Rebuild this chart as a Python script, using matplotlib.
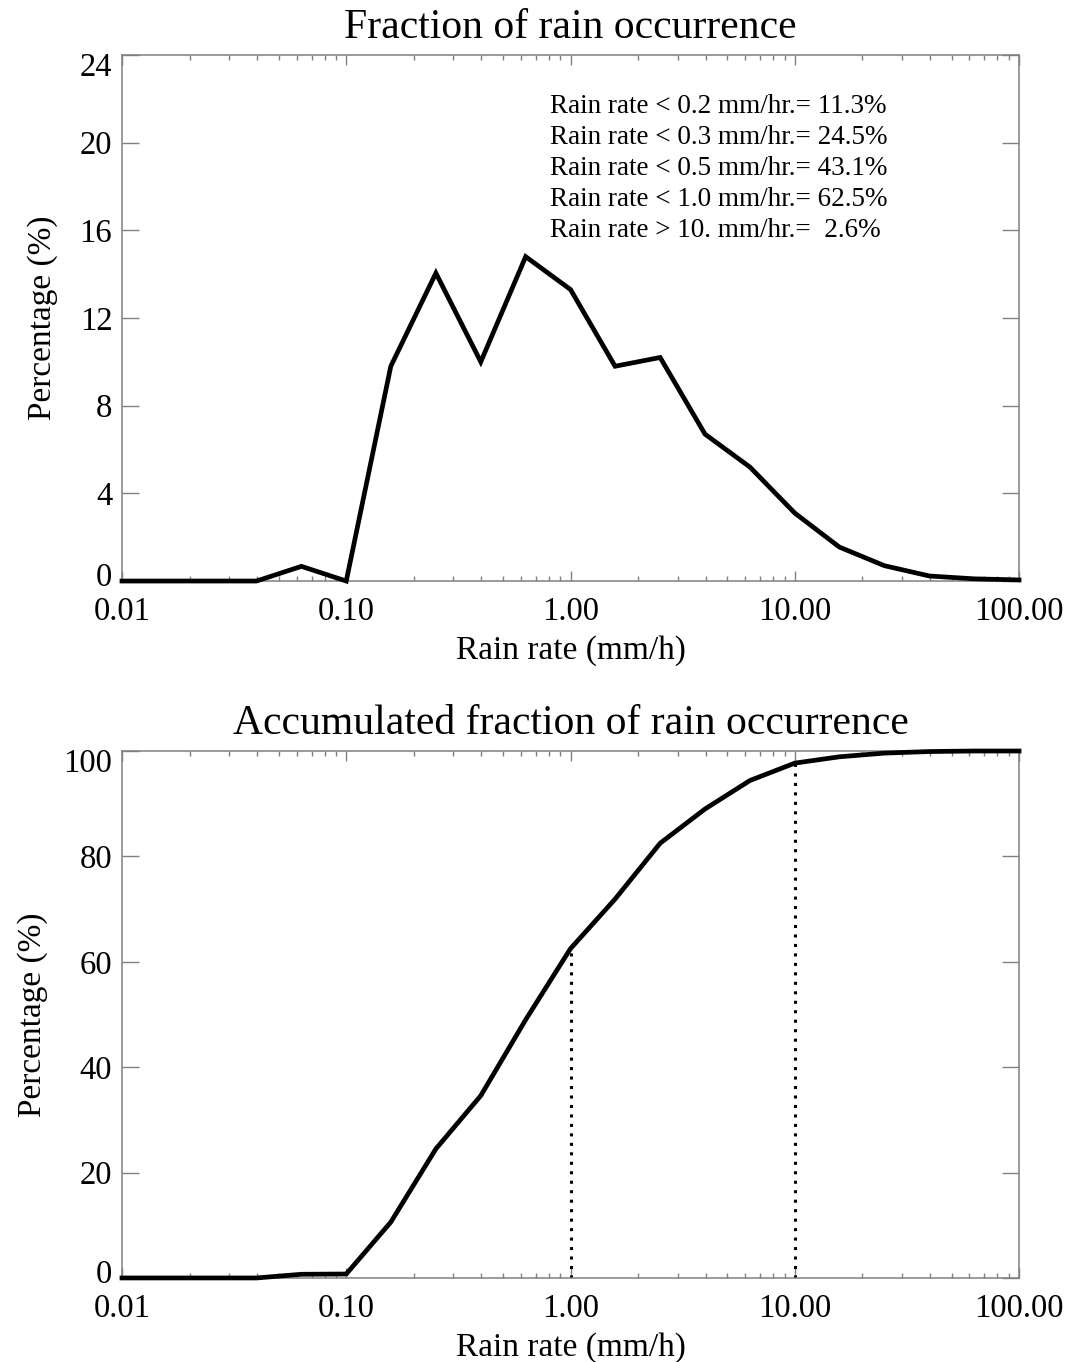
import matplotlib.pyplot as plt
import numpy as np
from matplotlib.ticker import FixedFormatter, FixedLocator, LogLocator, NullFormatter
from matplotlib.transforms import ScaledTranslation

plt.rcParams['font.family'] = ['Liberation Serif', 'DejaVu Serif']

# Data
# ----------------------------------------------------------------------------

# rain rate bins (mm/h)
rain_rate = [0.01, 0.0158, 0.0251, 0.0398, 0.0631, 0.1, 0.158, 0.251, 0.398,
             0.631, 1.0, 1.58, 2.51, 3.98, 6.31, 10.0, 15.8, 25.1, 39.8, 63.1,
             100.0]

# fraction of rain occurrence (%)
fraction = [0.0, 0.0, 0.0, 0.0, 0.67, 0.0, 9.8, 14.05, 10.0, 14.8, 13.3, 9.8,
            10.2, 6.7, 5.2, 3.1, 1.55, 0.7, 0.23, 0.1, 0.05]

# accumulated fraction of rain occurrence (%)
accumulated = [0.0, 0.0, 0.0, 0.0, 0.7, 0.75, 10.6, 24.5, 34.6, 49.0, 62.5,
               71.9, 82.5, 89.0, 94.4, 97.7, 98.9, 99.6, 99.9, 100.0, 100.0]

xtick_values = [0.01, 0.1, 1.0, 10.0, 100.0]
xtick_labels = ['0.01', '0.10', '1.00', '10.00', '100.00']
yticks_top = [0, 4, 8, 12, 16, 20, 24]
yticks_bottom = [0, 20, 40, 60, 80, 100]

notes = [
    'Rain rate < 0.2 mm/hr.= 11.3%',
    'Rain rate < 0.3 mm/hr.= 24.5%',
    'Rain rate < 0.5 mm/hr.= 43.1%',
    'Rain rate < 1.0 mm/hr.= 62.5%',
    'Rain rate > 10. mm/hr.=  2.6%',
]

marked_rates = [1.0, 10.0]

# Helpers
# ----------------------------------------------------------------------------


def config_ax(ax, title, yticks, ylabel_x):
    ax.set_xscale('log')
    ax.set_xlim(0.01, 100)
    ax.set_ylim(yticks[0], yticks[-1])
    ax.xaxis.set_major_locator(FixedLocator(xtick_values))
    ax.xaxis.set_major_formatter(FixedFormatter(xtick_labels))
    ax.xaxis.set_minor_locator(LogLocator(base=10, subs=np.arange(2, 10)))
    ax.xaxis.set_minor_formatter(NullFormatter())
    ax.set_yticks(yticks)
    ax.tick_params(which='both', direction='in', top=True, right=True,
                   color='0.5', width=1.0, labelsize=23.5)
    ax.tick_params(axis='x', which='major', length=7, pad=11)
    ax.tick_params(axis='x', which='minor', length=3.5)
    ax.tick_params(axis='y', which='major', length=12, pad=7)
    for spine in ax.spines.values():
        spine.set_color('0.5')
        spine.set_linewidth(1.1)
    ax.set_title(title, fontsize=30, pad=12)
    ax.set_xlabel('Rain rate (mm/h)', fontsize=24, labelpad=6)
    ax.set_ylabel('Percentage (%)', fontsize=24)
    ax.yaxis.set_label_coords(ylabel_x, 0.5)

    # nudge the end labels inward like the original
    ticks = ax.yaxis.get_major_ticks()
    fig = ax.figure
    lab = ticks[0].label1
    lab.set_transform(lab.get_transform() + ScaledTranslation(0, 5 / 72, fig.dpi_scale_trans))
    lab = ticks[-1].label1
    lab.set_transform(lab.get_transform() + ScaledTranslation(0, -6.5 / 72, fig.dpi_scale_trans))


# Plot
# ----------------------------------------------------------------------------

fig = plt.figure(figsize=(10.72, 13.62), dpi=100)
ax1 = fig.add_axes([0.1138, 0.5734, 0.8368, 0.3862])
ax2 = fig.add_axes([0.1138, 0.0617, 0.8368, 0.3869])

ax1.plot(rain_rate, fraction, color='k', lw=3.4, clip_on=False,
         solid_joinstyle='miter', zorder=3)
config_ax(ax1, 'Fraction of rain occurrence', yticks_top, -0.071)

for i, line in enumerate(notes):
    ax1.text(0.477, 0.903 - i * 0.0592, line, transform=ax1.transAxes,
             fontsize=19.5, ha='left', va='center')

ax2.plot(rain_rate, accumulated, color='k', lw=3.4, clip_on=False,
         solid_joinstyle='miter', zorder=3)
mark_top = np.interp(marked_rates, rain_rate, accumulated)
ax2.vlines(marked_rates, 0, mark_top, color='k', lw=2.2,
           linestyles=[(0, (1, 2.1))], zorder=2)
config_ax(ax2, 'Accumulated fraction of rain occurrence', yticks_bottom, -0.083)

fig.savefig('out.png', dpi=100)
